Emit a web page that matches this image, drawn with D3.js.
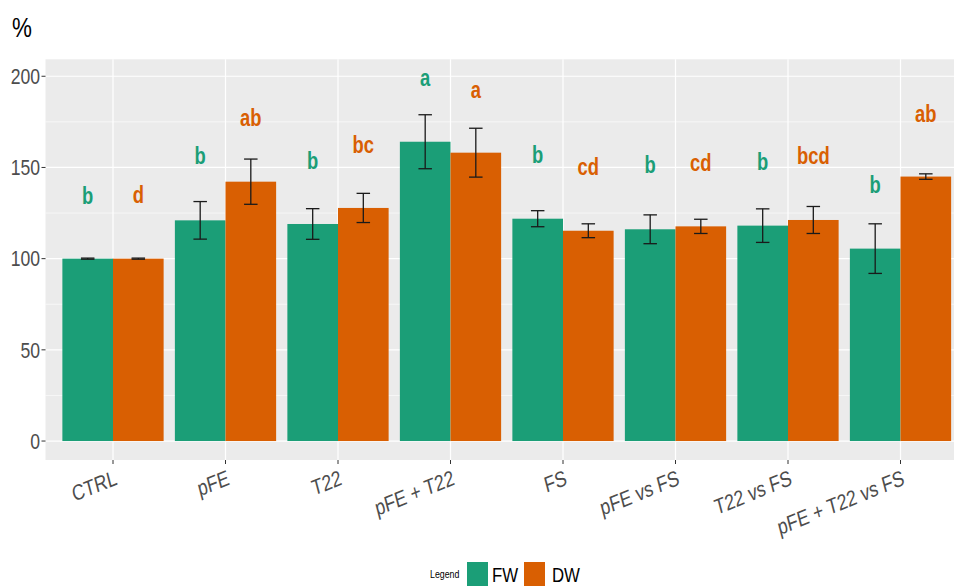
<!DOCTYPE html>
<html>
<head>
<meta charset="utf-8">
<script src="https://cdn.jsdelivr.net/npm/d3@7"></script>
<style>
  html, body { margin: 0; padding: 0; background: #ffffff; }
  svg { display: block; font-family: "Liberation Sans", Arial, sans-serif; }
</style>
</head>
<body>
<svg id="chart" width="954" height="586"></svg>
<script>
// Treatments on the x axis
const categories = ["CTRL", "pFE", "T22", "pFE + T22", "FS", "pFE vs FS", "T22 vs FS", "pFE + T22 vs FS"];
const seriesNames = ["FW", "DW"];

// Mean values (% of control) and standard errors
const fwValues = [100, 121.0, 119.0, 164.1, 121.9, 116.1, 118.1, 105.5];
const dwValues = [100, 142.2, 127.8, 158.1, 115.3, 117.7, 121.2, 145.0];
const fwErrors = [0.3, 10.3, 8.4, 14.8, 4.4, 7.9, 9.2, 13.6];
const dwErrors = [0.3, 12.4, 8.0, 13.4, 3.8, 3.9, 7.4, 1.5];

// Significance letters and the height (in % units) of their baseline
const fwLetters = ["b", "b", "b", "a", "b", "b", "b", "b"];
const dwLetters = ["d", "ab", "bc", "a", "cd", "cd", "bcd", "ab"];
const fwLetterY = [130.0, 151.7, 149.2, 194.7, 152.3, 146.8, 148.6, 136.2];
const dwLetterY = [130.4, 172.7, 158.1, 187.9, 145.9, 148.2, 151.9, 175.1];

const yTicks = [0, 50, 100, 150, 200];
const yMinor = [25, 75, 125, 175];

const colors = { FW: "#1b9e77", DW: "#d95f02" };
const SQ = 0.8; // horizontal text compression

const rows = categories.map((c, i) => ({
  cat: c,
  FW: { v: fwValues[i], e: fwErrors[i], l: fwLetters[i], ly: fwLetterY[i] },
  DW: { v: dwValues[i], e: dwErrors[i], l: dwLetters[i], ly: dwLetterY[i] }
}));

const svg = d3.select("#chart");

const unit = 112.5;
const panelLeft = 45.5;
const panelTop = 59.3, panelBottom = 460;
const panelRight = panelLeft + 8.2 * unit;

const x = d3.scaleBand()
  .domain(categories)
  .range([panelLeft + 0.1 * unit, panelLeft + 8.1 * unit]);
const xs = d3.scaleBand()
  .domain(seriesNames)
  .range([0.05 * unit, 0.95 * unit]);
const y = d3.scaleLinear()
  .domain([-10.4, 209.3])
  .range([panelBottom, panelTop]);

// Panel background
svg.append("rect")
  .attr("x", panelLeft).attr("y", panelTop)
  .attr("width", panelRight - panelLeft).attr("height", panelBottom - panelTop)
  .attr("fill", "#ebebeb");

// Grid
const grid = svg.append("g");
grid.selectAll(".minor").data(yMinor).join("line")
  .attr("x1", panelLeft).attr("x2", panelRight)
  .attr("y1", d => y(d)).attr("y2", d => y(d))
  .attr("stroke", "#ffffff").attr("stroke-width", 0.6);
grid.selectAll(".major").data(yTicks).join("line")
  .attr("x1", panelLeft).attr("x2", panelRight)
  .attr("y1", d => y(d)).attr("y2", d => y(d))
  .attr("stroke", "#ffffff").attr("stroke-width", 1.2);
grid.selectAll(".vmajor").data(categories).join("line")
  .attr("x1", d => x(d) + x.bandwidth() / 2).attr("x2", d => x(d) + x.bandwidth() / 2)
  .attr("y1", panelTop).attr("y2", panelBottom)
  .attr("stroke", "#ffffff").attr("stroke-width", 1.2);

// Bars
const groups = svg.append("g").selectAll("g").data(rows).join("g")
  .attr("transform", d => `translate(${x(d.cat)},0)`);

groups.selectAll("rect").data(d => seriesNames.map(s => ({ s, ...d[s] }))).join("rect")
  .attr("x", d => xs(d.s))
  .attr("width", xs.bandwidth())
  .attr("y", d => y(d.v))
  .attr("height", d => y(0) - y(d.v))
  .attr("fill", d => colors[d.s]);

// Error bars
const whisker = 0.06 * unit;
const eb = groups.selectAll("g.eb").data(d => seriesNames.map(s => ({ s, ...d[s] }))).join("g")
  .attr("class", "eb")
  .attr("stroke", "#1a1a1a").attr("stroke-width", 1.3).attr("fill", "none");
eb.append("line")
  .attr("x1", d => xs(d.s) + xs.bandwidth() / 2).attr("x2", d => xs(d.s) + xs.bandwidth() / 2)
  .attr("y1", d => y(d.v - d.e)).attr("y2", d => y(d.v + d.e));
eb.append("line")
  .attr("x1", d => xs(d.s) + xs.bandwidth() / 2 - whisker).attr("x2", d => xs(d.s) + xs.bandwidth() / 2 + whisker)
  .attr("y1", d => y(d.v + d.e)).attr("y2", d => y(d.v + d.e));
eb.append("line")
  .attr("x1", d => xs(d.s) + xs.bandwidth() / 2 - whisker).attr("x2", d => xs(d.s) + xs.bandwidth() / 2 + whisker)
  .attr("y1", d => y(d.v - d.e)).attr("y2", d => y(d.v - d.e));

// Significance letters
groups.selectAll("text").data(d => seriesNames.map(s => ({ s, ...d[s] }))).join("text")
  .attr("transform", d => `translate(${xs(d.s) + xs.bandwidth() / 2},${y(d.ly)}) scale(${SQ},1)`)
  .attr("text-anchor", "middle")
  .attr("font-size", 23).attr("font-weight", "bold")
  .attr("fill", d => colors[d.s])
  .text(d => d.l);

// Y axis
const yAxis = svg.append("g");
yAxis.selectAll("line").data(yTicks).join("line")
  .attr("x1", panelLeft - 4).attr("x2", panelLeft)
  .attr("y1", d => y(d)).attr("y2", d => y(d))
  .attr("stroke", "#333333").attr("stroke-width", 1);
yAxis.selectAll("text").data(yTicks).join("text")
  .attr("transform", d => `translate(${panelLeft - 5.5},${y(d)}) scale(${SQ},1)`)
  .attr("text-anchor", "end").attr("dominant-baseline", "central")
  .attr("font-size", 22).attr("fill", "#4d4d4d")
  .text(d => d);

// X axis
const xAxis = svg.append("g");
xAxis.selectAll("line").data(categories).join("line")
  .attr("x1", d => x(d) + x.bandwidth() / 2).attr("x2", d => x(d) + x.bandwidth() / 2)
  .attr("y1", panelBottom).attr("y2", panelBottom + 4)
  .attr("stroke", "#333333").attr("stroke-width", 1);
xAxis.selectAll("text").data(categories).join("text")
  .attr("transform", d => `translate(${x(d) + x.bandwidth() / 2 + 1},${panelBottom + 9}) scale(${SQ},1) rotate(-18)`)
  .attr("text-anchor", "end").attr("dominant-baseline", "hanging")
  .attr("font-size", 22).attr("fill", "#4d4d4d")
  .text(d => d);

// Y title
svg.append("text")
  .attr("transform", `translate(12,37) scale(${SQ},1)`)
  .attr("font-size", 28).attr("fill", "#000000")
  .text("%");

// Legend
const legend = svg.append("g");
legend.append("text")
  .attr("transform", `translate(430,578) scale(${SQ},1)`)
  .attr("font-size", 11).attr("fill", "#000000")
  .text("Legend");
const keyX = [467, 524];
const labX = [492, 552];
seriesNames.forEach((s, i) => {
  legend.append("rect")
    .attr("x", keyX[i]).attr("y", 562)
    .attr("width", 21).attr("height", 26)
    .attr("fill", colors[s]);
  legend.append("text")
    .attr("transform", `translate(${labX[i]},582) scale(${SQ},1)`)
    .attr("font-size", 21).attr("fill", "#000000")
    .text(s);
});
</script>
</body>
</html>
